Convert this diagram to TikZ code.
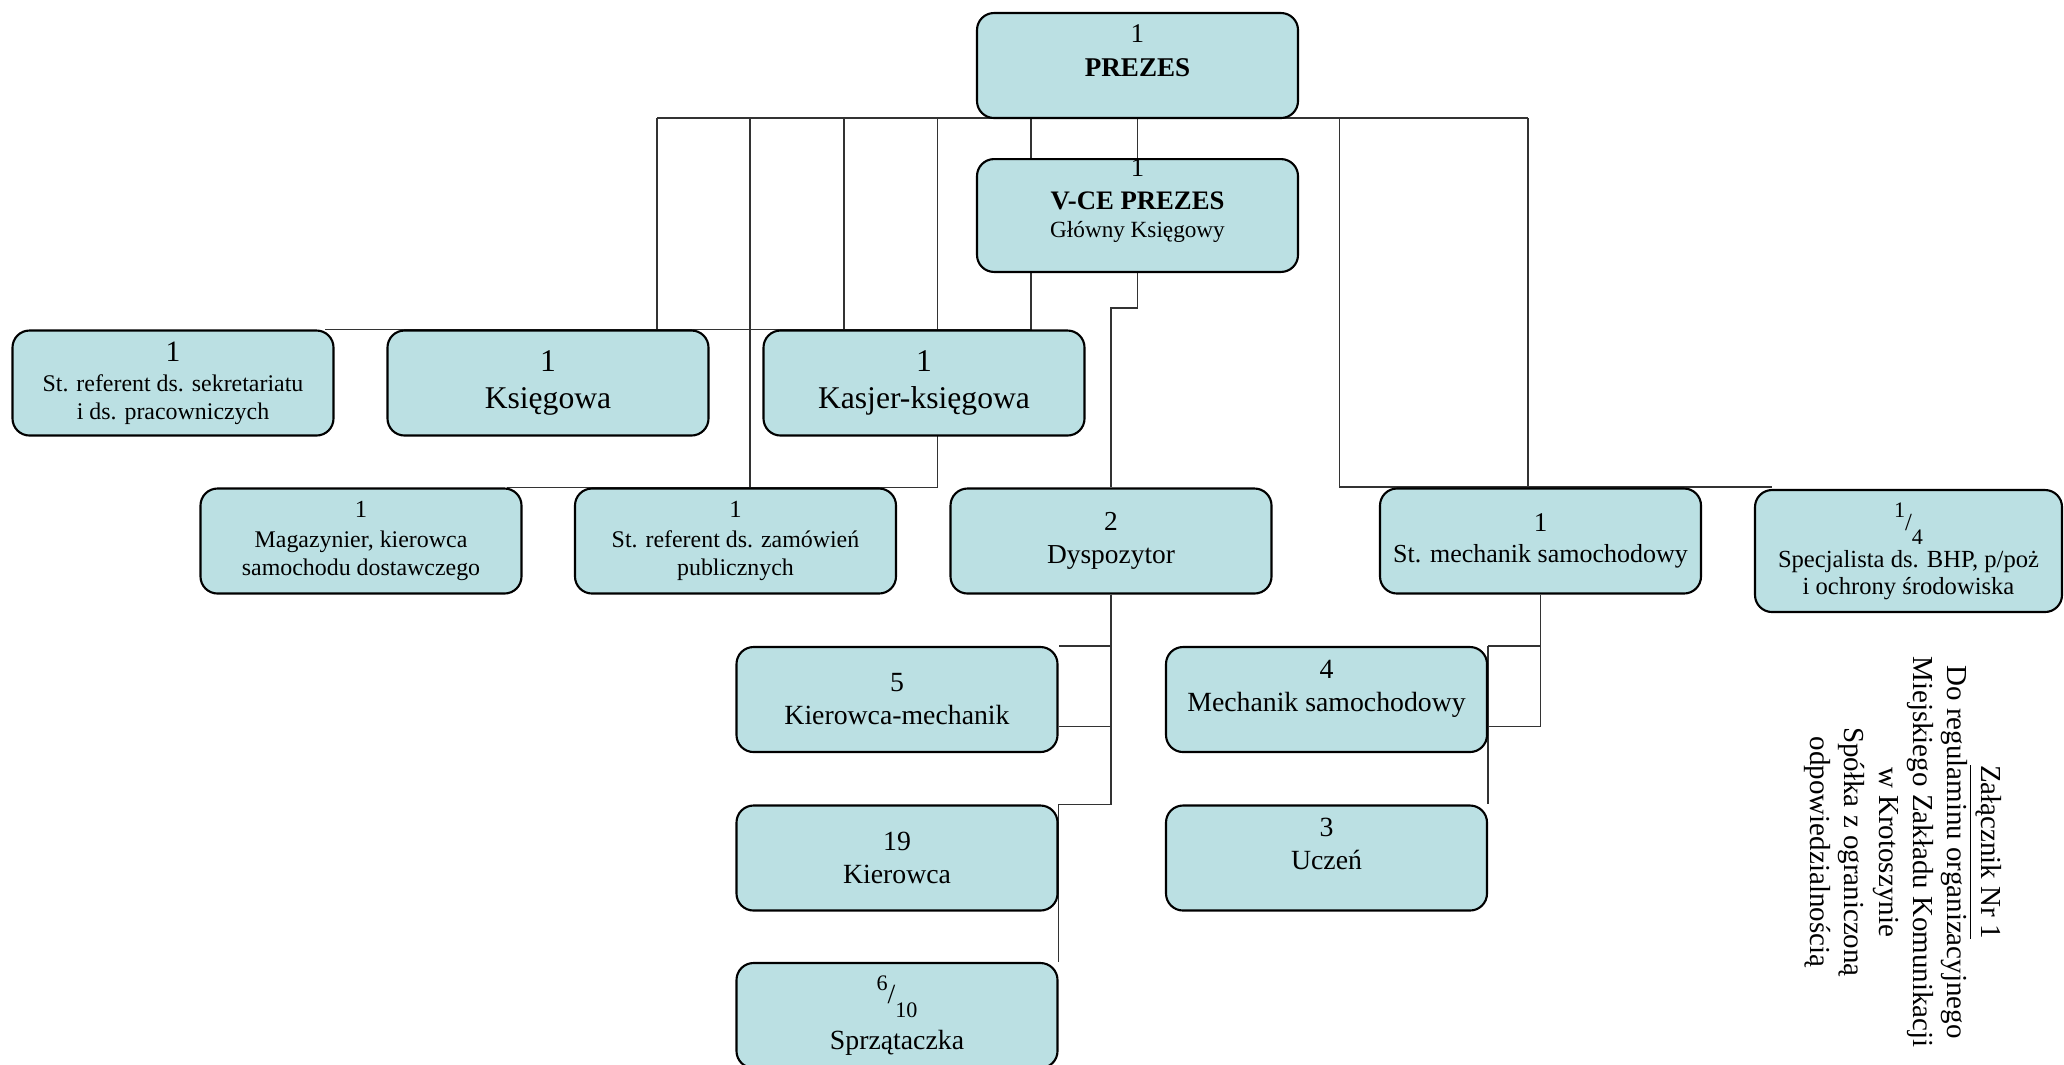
\documentclass[tikz,border=0pt]{standalone}
\usepackage{fontspec}
\setmainfont{Liberation Serif}
\usepackage{tikz}
\usetikzlibrary{calc,positioning}
\pgfdeclarelayer{edgelayer}
\pgfsetlayers{edgelayer,main}
\definecolor{boxfill}{RGB}{187,224,227}
\newcommand{\rozm}[2]{\fontsize{#1}{#2}\selectfont}
\newcommand{\ulamek}[2]{\raisebox{3.8pt}{\rozm{6.3}{7}#1}/\raisebox{-4pt}{\rozm{6.3}{7}#2}}
\tikzstyle{box}=[rectangle,rounded corners=1.7mm,draw,line width=0.6pt,fill=boxfill,minimum width=3.21cm,minimum height=1.05cm,inner sep=0pt,align=center]
\tikzstyle{conn}=[line width=0.35pt,black!80]

\begin{document}
\begin{tikzpicture}
\useasboundingbox (0,0) rectangle (20.64,-10.64);
\node[box,font=\rozm{7.7}{9.7}] (prez) at (11.375,-0.655) {1\\\textbf{PREZES}\\[-1.45pt]\mbox{}};
\node[box,font=\rozm{7.6}{9.4}] (vce) at (11.375,-2.155) {1\\\textbf{V-CE PREZES}\\[-1.4pt]{\rozm{6.6}{8}Główny Księgowy}\\[0.3pt]\mbox{}};
\node[box,font=\rozm{6.8}{8}] (sekr) at (1.73,-3.83) {{\rozm{8.4}{10}1}\\[0.5pt]St. referent ds. sekretariatu\\i ds. pracowniczych};
\node[box,font=\rozm{9}{10.5}] (ksieg) at (5.48,-3.83) {1\\Księgowa};
\node[box,font=\rozm{9}{10.5}] (kasjer) at (9.24,-3.83) {1\\Kasjer-księgowa};
\node[box,font=\rozm{6.8}{8}] (magaz) at (3.61,-5.41) {{\rozm{7}{8}1}\\[0.5pt]Magazynier, kierowca\\samochodu dostawczego};
\node[box,font=\rozm{6.8}{8}] (zamow) at (7.355,-5.41) {{\rozm{7}{8}1}\\[0.5pt]St. referent ds. zamówień\\publicznych};
\node[box,font=\rozm{7.8}{9.4}] (dysp) at (11.11,-5.41) {2\\Dyspozytor};
\node[box,font=\rozm{7.4}{8.8}] (stmech) at (15.405,-5.41) {{\rozm{7.7}{8}1}\\St. mechanik samochodowy};
\node[box,minimum width=3.07cm,minimum height=1.22cm,font=\rozm{7}{7.7}] (bhp) at (19.085,-5.51) {\ulamek{1}{4}\\[0.5pt]Specjalista ds. BHP, p/poż\\i ochrony środowiska};
\node[box,font=\rozm{7.9}{9.4}] (kmech) at (8.97,-6.995) {5\\Kierowca-mechanik};
\node[box,font=\rozm{7.9}{9.4}] (mechs) at (13.265,-6.995) {4\\Mechanik samochodowy\\[-1.7pt]\mbox{}};
\node[box,font=\rozm{7.9}{9.4}] (kier) at (8.97,-8.58) {19\\Kierowca};
\node[box,font=\rozm{7.9}{9.4}] (uczen) at (13.265,-8.58) {3\\Uczeń\\[-1.4pt]\mbox{}};
\node[box,font=\rozm{7.9}{9.4}] (sprz) at (8.97,-10.155) {\ulamek{6}{10}\\[2.6pt]Sprzątaczka};
\node[rotate=-90,align=center,font=\rozm{8.25}{9.7}] (zal) at (19.03,-8.52) {\underline{Załącznik Nr 1}\\Do regulaminu organizacyjnego\\Miejskiego Zakładu Komunikacji\\w Krotoszynie\\Spółka z ograniczoną\\odpowiedzialnością};
\begin{pgfonlayer}{edgelayer}
\coordinate (b1) at (6.57,-1.18);
\coordinate (b2) at (7.50,-1.18);
\coordinate (b3) at (8.44,-1.18);
\coordinate (b4) at (9.375,-1.18);
\coordinate (b5) at (10.31,-1.18);
\coordinate (b6) at (13.395,-1.18);
\coordinate (b7) at (15.28,-1.18);
\draw[conn] (b1) -- (b7);
\draw[conn] (b1) -- (b1 |- ksieg.north);
\draw[conn] (b2) -- (b2 |- zamow.north);
\draw[conn] (b3) -- (b3 |- kasjer.north);
\draw[conn] (b4) |- ($(magaz.north east)+(-0.16,0)$);
\draw[conn] (b5) |- ($(sekr.north east)+(-0.1,0)$);
\draw[conn] (prez.south) -- (vce.north);
\draw[conn] (b6) |- ($(bhp.north west)+(0.18,0.02)$);
\draw[conn] (b7) -- (b7 |- stmech.north);
\draw[conn] (vce.south) -- ++(0,-0.35) -| (dysp.north);
\draw[conn] (dysp.south) |- (kmech.north east);
\draw[conn] (dysp.south) |- ($(kmech.east)!.5!(kmech.south east)$);
\draw[conn] (dysp.south) |- (kier.north east);
\draw[conn] (kier.north east) -- (sprz.north east);
\draw[conn] (stmech.south) |- (mechs.north east);
\draw[conn] (stmech.south) |- ($(mechs.east)!.5!(mechs.south east)$);
\draw[conn] (mechs.north east) -- (uczen.north east);
\end{pgfonlayer}
\end{tikzpicture}
\end{document}
